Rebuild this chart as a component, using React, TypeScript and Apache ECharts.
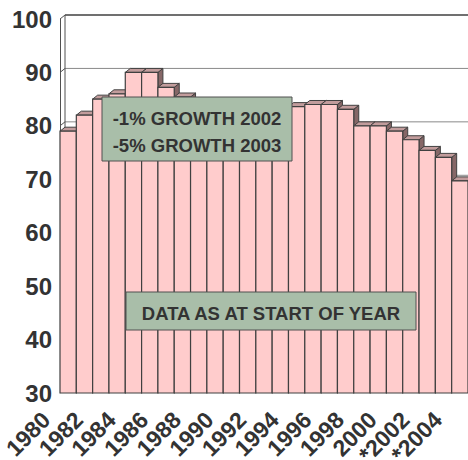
import React, { useEffect, useRef } from "react";
import * as echarts from "echarts";

// ---- data ----
const years: string[] = [
  "1980", "1981", "1982", "1983", "1984", "1985", "1986", "1987", "1988", "1989",
  "1990", "1991", "1992", "1993", "1994", "1995", "1996", "1997", "1998", "1999",
  "2000", "2001", "*2002", "2003", "*2004",
];
const values: number[] = [
  79, 82, 85, 86, 90, 90, 87.2, 85.4, 84.5, 84,
  83.5, 83, 83, 83.4, 83.6, 84, 84, 83.1, 80, 80,
  79, 77.4, 75.4, 74.1, 69.7,
];
const yTicks: number[] = [30, 40, 50, 60, 70, 80, 90, 100];
const Y_MIN = 30;
const Y_MAX = 100;
const noteLines: string[] = ["-1% GROWTH 2002", "-5% GROWTH 2003"];
const noteData = "DATA AS AT START OF YEAR";

// ---- style ----
const FONT = "Liberation Sans";
const TEXT = "#333333";
const FRONT = "#ffcccc";
const TOP = "#c29c9c";
const SIDE = "#866767";
const EDGE = "#404040";
const BOX = "#a9bea9";
const DX = 5;
const DY = 4;

export default function App() {
  const ref = useRef<HTMLDivElement>(null);
  useEffect(() => {
    if (!ref.current) return;
    const chart = echarts.init(ref.current, null, { renderer: "svg" });
    const textStyle = (text: string) => ({
      text,
      fill: TEXT,
      font: `bold 18.5px "${FONT}"`,
      textAlign: "center",
      textVerticalAlign: "middle",
    });
    const option: any = {
      animation: false,
      backgroundColor: "#ffffff",
      grid: {
        left: 60,
        right: 0,
        top: 19,
        bottom: 67,
        containLabel: false,
        outerBoundsMode: "none",
      },
      xAxis: {
        type: "category",
        data: years,
        boundaryGap: true,
        axisLine: { show: false },
        axisTick: { show: false },
        splitLine: { show: false },
        axisLabel: {
          interval: 1,
          rotate: 45,
          margin: 1,
          padding: [0, 31, 0, 0],
          hideOverlap: false,
          showMinLabel: true,
          showMaxLabel: true,
          fontFamily: FONT,
          fontWeight: "bold",
          fontSize: 23,
          color: TEXT,
        },
      },
      yAxis: {
        type: "value",
        min: Y_MIN,
        max: Y_MAX,
        interval: 10,
        axisLine: { show: false },
        axisTick: { show: false },
        splitLine: { show: false },
        axisLabel: {
          margin: 8,
          fontFamily: FONT,
          fontWeight: "bold",
          fontSize: 24,
          color: TEXT,
        },
      },
      series: [
        {
          type: "custom",
          z: 1,
          silent: true,
          data: yTicks.map((t) => [0, t]),
          renderItem: (params: any, api: any) => {
            const cs = params.coordSys;
            const t = api.value(1);
            const y = api.coord([0, t])[1];
            const gx = cs.x;
            const gw = cs.width;
            const isTop = t === Y_MAX;
            const children: any[] = [
              {
                type: "line",
                shape: { x1: gx + DX, y1: y - DY, x2: gx + gw + DX, y2: y - DY },
                style: { stroke: isTop ? "#404040" : "#8a8a8a", lineWidth: isTop ? 1.5 : 1 },
              },
              {
                type: "line",
                shape: { x1: gx, y1: y, x2: gx + DX, y2: y - DY },
                style: { stroke: "#505050", lineWidth: 1 },
              },
            ];
            if (isTop) {
              const yb = api.coord([0, Y_MIN])[1];
              children.push(
                {
                  type: "line",
                  shape: { x1: gx + 0.5, y1: y, x2: gx + 0.5, y2: yb },
                  style: { stroke: "#505050", lineWidth: 1 },
                },
                {
                  type: "line",
                  shape: { x1: gx + DX, y1: y - DY, x2: gx + DX, y2: yb - DY },
                  style: { stroke: "#505050", lineWidth: 1 },
                }
              );
            }
            return { type: "group", children };
          },
        },
        {
          type: "custom",
          z: 2,
          data: values.map((v, i) => [i, v]),
          renderItem: (params: any, api: any) => {
            const idx = api.value(0);
            const v = api.value(1);
            const top = api.coord([idx, v]);
            const base = api.coord([idx, Y_MIN]);
            const w = api.size([1, 0])[0];
            const x1 = top[0] - w / 2;
            const x2 = top[0] + w / 2;
            const yt = top[1];
            const yb = base[1];
            return {
              type: "group",
              children: [
                {
                  type: "polygon",
                  shape: { points: [[x2, yt], [x2 + DX, yt - DY], [x2 + DX, yb - DY], [x2, yb]] },
                  style: { fill: SIDE, stroke: EDGE, lineWidth: 1 },
                },
                {
                  type: "polygon",
                  shape: { points: [[x1, yt], [x1 + DX, yt - DY], [x2 + DX, yt - DY], [x2, yt]] },
                  style: { fill: TOP, stroke: EDGE, lineWidth: 1 },
                },
                {
                  type: "rect",
                  shape: { x: x1, y: yt, width: w, height: yb - yt },
                  style: { fill: FRONT, stroke: EDGE, lineWidth: 1.2 },
                },
              ],
            };
          },
        },
      ],
      graphic: [
        {
          type: "rect",
          z: 100,
          shape: { x: 102, y: 97, width: 190, height: 64 },
          style: { fill: BOX, stroke: "#505050", lineWidth: 1 },
        },
        { type: "text", z: 101, x: 197, y: 118, style: textStyle(noteLines[0]) },
        { type: "text", z: 101, x: 197, y: 145, style: textStyle(noteLines[1]) },
        {
          type: "rect",
          z: 100,
          shape: { x: 126, y: 292, width: 290, height: 38 },
          style: { fill: BOX, stroke: "#505050", lineWidth: 1 },
        },
        { type: "text", z: 101, x: 271, y: 313, style: textStyle(noteData) },
      ],
    };
    chart.setOption(option);
    return () => chart.dispose();
  }, []);
  return (
    <div
      ref={ref}
      style={{ position: "fixed", left: 0, top: 0, width: 468, height: 460 }}
    />
  );
}
